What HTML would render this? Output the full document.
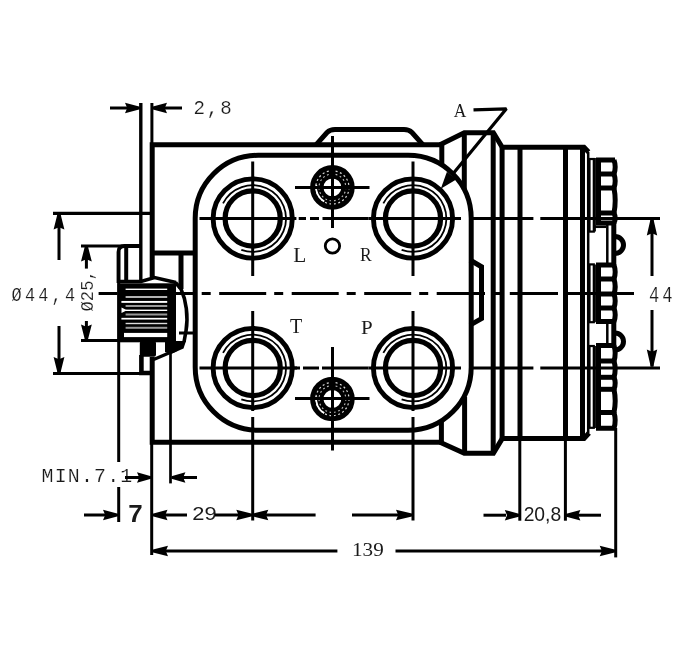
<!DOCTYPE html>
<html><head><meta charset="utf-8"><style>html,body{margin:0;padding:0;background:#fff;}svg{display:block;will-change:transform;filter:blur(0.3px);}</style></head>
<body><svg width="688" height="665" viewBox="0 0 688 665" stroke="#000" stroke-linecap="butt"><text x="0" y="0" transform="translate(93.13,311.41) rotate(-90) scale(0.1714,0.1872)" font-family="Liberation Mono" font-weight="normal" font-size="100" letter-spacing="0.0" stroke="#fff" stroke-width="0.9" fill="#1a1a1a">Ø25,</text>
<text x="0" y="0" transform="translate(361.07,334.30) scale(0.2102,0.1800)" font-family="Liberation Serif" font-weight="normal" font-size="100" letter-spacing="0" stroke="none" fill="#1a1a1a">P</text>
<text x="0" y="0" transform="translate(290.10,333.00) scale(0.2000,0.2031)" font-family="Liberation Serif" font-weight="normal" font-size="100" letter-spacing="0" stroke="none" fill="#1a1a1a">T</text>
<text x="0" y="0" transform="translate(360.08,260.70) scale(0.1750,0.1908)" font-family="Liberation Serif" font-weight="normal" font-size="100" letter-spacing="0" stroke="none" fill="#1a1a1a">R</text>
<text x="0" y="0" transform="translate(293.26,262.00) scale(0.2135,0.2015)" font-family="Liberation Serif" font-weight="normal" font-size="100" letter-spacing="0" stroke="none" fill="#1a1a1a">L</text>
<text x="0" y="0" transform="translate(351.99,556.20) scale(0.2117,0.1985)" font-family="Liberation Serif" font-weight="normal" font-size="100" letter-spacing="0" stroke="none" fill="#1a1a1a">139</text>
<text x="0" y="0" transform="translate(523.64,521.46) scale(0.1930,0.1952)" font-family="Liberation Sans" font-weight="normal" font-size="100" letter-spacing="0" stroke="none" fill="#1a1a1a">20,8</text>
<text x="0" y="0" transform="translate(192.21,519.62) scale(0.2188,0.1817)" font-family="Liberation Sans" font-weight="normal" font-size="100" letter-spacing="0" stroke="none" fill="#1a1a1a">29</text>
<text x="0" y="0" transform="translate(128.16,521.65) scale(0.2596,0.2471)" font-family="Liberation Sans" font-weight="bold" font-size="100" letter-spacing="0" stroke="none" fill="#1a1a1a">7</text>
<text x="0" y="0" transform="translate(648.94,301.82) scale(0.1711,0.2154)" font-family="Liberation Mono" font-weight="normal" font-size="100" letter-spacing="18.0" stroke="#fff" stroke-width="0.9" fill="#1a1a1a">44</text>
<text x="0" y="0" transform="translate(453.83,117.29) scale(0.1743,0.1877)" font-family="Liberation Serif" font-weight="normal" font-size="100" letter-spacing="0" stroke="none" fill="#1a1a1a">A</text>
<text x="0" y="0" transform="translate(41.61,482.30) scale(0.1987,0.2000)" font-family="Liberation Mono" font-weight="normal" font-size="100" letter-spacing="6.0" stroke="#fff" stroke-width="0.9" fill="#1a1a1a">MIN.7.1</text>
<text x="0" y="0" transform="translate(11.59,300.96) scale(0.1688,0.1965)" font-family="Liberation Mono" font-weight="normal" font-size="100" letter-spacing="19.0" stroke="#fff" stroke-width="0.9" fill="#1a1a1a">Ø44,4</text>
<text x="0" y="0" transform="translate(193.46,114.44) scale(0.1914,0.1976)" font-family="Liberation Mono" font-weight="normal" font-size="100" letter-spacing="10.0" stroke="#fff" stroke-width="0.9" fill="#1a1a1a">2,8</text>
<line x1="140.8" y1="103" x2="140.8" y2="281" stroke-width="3.4"/>
<line x1="151.9" y1="103" x2="151.9" y2="145" stroke-width="3"/>
<line x1="110" y1="108" x2="130" y2="108" stroke-width="3"/>
<polygon points="140,106.7 125,102.8 127.2,108 125,113.2 140,109.3" stroke="none" fill="#000"/>
<line x1="162" y1="108" x2="182" y2="108" stroke-width="3"/>
<polygon points="152,106.7 167,102.8 164.8,108 167,113.2 152,109.3" stroke="none" fill="#000"/>
<path d="M152.2,277 V144.8 H442" stroke-width="5.0" fill="none" />
<path d="M152.2,357 V442.3 H442" stroke-width="5.0" fill="none" />
<line x1="151.7" y1="441.5" x2="151.7" y2="555" stroke-width="3"/>
<path d="M316,144.8 L327,132.5 Q330,129.6 335,129.6 H404 Q409,129.6 412,132.5 L423,144.8" stroke-width="5.0" fill="none" />
<rect x="195.2" y="155.3" width="276" height="275" rx="63" ry="63" stroke-width="5.0" fill="none"/>
<line x1="152.2" y1="253" x2="195.5" y2="253" stroke-width="5.0"/>
<line x1="181" y1="253" x2="181" y2="289" stroke-width="5.0"/>
<line x1="179" y1="333" x2="195.5" y2="333" stroke-width="3"/>
<circle cx="252.7" cy="218.5" r="39.6" stroke-width="4.9" fill="none" />
<circle cx="252.7" cy="218.5" r="27.6" stroke-width="5.2" fill="none" />
<path d="M241.31,249.79 A33.3,33.3 0 1 0 223.03,203.38" stroke-width="1.8" fill="none" />
<circle cx="413" cy="218.5" r="39.6" stroke-width="4.9" fill="none" />
<circle cx="413" cy="218.5" r="27.6" stroke-width="5.2" fill="none" />
<path d="M401.61,249.79 A33.3,33.3 0 1 0 383.33,203.38" stroke-width="1.8" fill="none" />
<circle cx="252.7" cy="368" r="39.6" stroke-width="4.9" fill="none" />
<circle cx="252.7" cy="368" r="27.6" stroke-width="5.2" fill="none" />
<path d="M241.31,399.29 A33.3,33.3 0 1 0 223.03,352.88" stroke-width="1.8" fill="none" />
<circle cx="413" cy="368" r="39.6" stroke-width="4.9" fill="none" />
<circle cx="413" cy="368" r="27.6" stroke-width="5.2" fill="none" />
<path d="M401.61,399.29 A33.3,33.3 0 1 0 383.33,352.88" stroke-width="1.8" fill="none" />
<line x1="252.7" y1="161.5" x2="252.7" y2="276" stroke-width="3"/>
<line x1="252.7" y1="311" x2="252.7" y2="411" stroke-width="3"/>
<line x1="252.7" y1="417" x2="252.7" y2="520.5" stroke-width="3"/>
<line x1="413" y1="161.5" x2="413" y2="276" stroke-width="3"/>
<line x1="413" y1="311" x2="413" y2="411" stroke-width="3"/>
<line x1="413" y1="417" x2="413" y2="520.5" stroke-width="3"/>
<line x1="199.5" y1="218.5" x2="296.4" y2="218.5" stroke-width="3"/>
<line x1="368.5" y1="218.5" x2="458" y2="218.5" stroke-width="3"/>
<line x1="199.5" y1="368" x2="297" y2="368" stroke-width="3"/>
<line x1="368.5" y1="368" x2="458" y2="368" stroke-width="3"/>
<circle cx="332.4" cy="187.4" r="15.6" stroke-width="13.4" fill="none" />
<circle cx="332.4" cy="187.4" r="16.6" stroke-width="1.2" fill="none" stroke="#fff" stroke-dasharray="2 2.5" opacity="0.85"/>
<circle cx="332.4" cy="187.4" r="13.4" stroke-width="1.1" fill="none" stroke="#fff" stroke-dasharray="1.8 2.6" opacity="0.75"/>
<path d="M316.30,184.85 A16.3,16.3 0 0 0 324.25,201.52" stroke-width="1.8" fill="none" stroke="#fff"/>
<circle cx="332.4" cy="399" r="15.6" stroke-width="13.4" fill="none" />
<circle cx="332.4" cy="399" r="16.6" stroke-width="1.2" fill="none" stroke="#fff" stroke-dasharray="2 2.5" opacity="0.85"/>
<circle cx="332.4" cy="399" r="13.4" stroke-width="1.1" fill="none" stroke="#fff" stroke-dasharray="1.8 2.6" opacity="0.75"/>
<path d="M316.30,396.45 A16.3,16.3 0 0 0 324.25,413.12" stroke-width="1.8" fill="none" stroke="#fff"/>
<line x1="332.5" y1="136" x2="332.5" y2="228" stroke-width="3"/>
<line x1="295" y1="187.5" x2="369.5" y2="187.5" stroke-width="3"/>
<line x1="332.5" y1="347" x2="332.5" y2="450.5" stroke-width="3"/>
<line x1="295" y1="398.5" x2="369.5" y2="398.5" stroke-width="3"/>
<circle cx="332.45" cy="246" r="7.2" stroke-width="2.8" fill="none" />
<line x1="298.7" y1="218.5" x2="306" y2="218.5" stroke-width="3"/>
<line x1="310" y1="218.5" x2="319" y2="218.5" stroke-width="3"/>
<line x1="322.5" y1="218.5" x2="368.5" y2="218.5" stroke-width="3"/>
<line x1="146.7" y1="293.5" x2="470" y2="293.5" stroke-width="3" stroke-dasharray="47 8 9 8.5"/>
<line x1="98.6" y1="293.5" x2="117.5" y2="293.5" stroke-width="3"/>
<line x1="470" y1="293.5" x2="485" y2="293.5" stroke-width="3"/>
<line x1="494.7" y1="293.5" x2="500.7" y2="293.5" stroke-width="3"/>
<line x1="509.8" y1="293.5" x2="558" y2="293.5" stroke-width="3"/>
<line x1="564.7" y1="293.5" x2="634" y2="293.5" stroke-width="3"/>
<line x1="458" y1="218.5" x2="461" y2="218.5" stroke-width="3"/>
<line x1="469" y1="218.5" x2="533.4" y2="218.5" stroke-width="3"/>
<line x1="540.3" y1="218.5" x2="660" y2="218.5" stroke-width="3"/>
<line x1="458" y1="368" x2="461" y2="368" stroke-width="3"/>
<line x1="469" y1="368" x2="533.4" y2="368" stroke-width="3"/>
<line x1="540.3" y1="368" x2="660" y2="368" stroke-width="3"/>
<line x1="291.6" y1="368" x2="300" y2="368" stroke-width="3"/>
<line x1="303" y1="368" x2="319" y2="368" stroke-width="3"/>
<line x1="322" y1="368" x2="368.5" y2="368" stroke-width="3"/>
<line x1="81" y1="246" x2="141" y2="246" stroke-width="3"/>
<path d="M141,246 H124.5 Q118.5,246 118.5,252 V283" stroke-width="3.8" fill="none" />
<line x1="126.2" y1="246" x2="126.2" y2="281.5" stroke-width="4"/>
<line x1="81" y1="340.5" x2="119" y2="340.5" stroke-width="3"/>
<line x1="53" y1="213.3" x2="152" y2="213.3" stroke-width="3.2"/>
<line x1="53" y1="373.5" x2="140" y2="373.5" stroke-width="3"/>
<rect x="117.5" y="283.3" width="58.5" height="59" fill="#000" stroke="none"/>
<rect x="125.6" y="288.6" width="41.599999999999994" height="1.4" fill="#fff" stroke="none"/>
<rect x="125.6" y="296.3" width="41.599999999999994" height="1.4" fill="#fff" stroke="none"/>
<rect x="121.4" y="300.95" width="45.79999999999998" height="1.9" fill="#fff" stroke="none"/>
<rect x="125.6" y="305.0" width="41.599999999999994" height="2.0" fill="#999" stroke="none"/>
<rect x="125.6" y="309.6" width="41.599999999999994" height="1.4" fill="#fff" stroke="none"/>
<rect x="125.6" y="313.5" width="41.599999999999994" height="2.0" fill="#999" stroke="none"/>
<rect x="121.4" y="317.84999999999997" width="45.79999999999998" height="1.7" fill="#fff" stroke="none"/>
<rect x="125.6" y="322.8" width="41.599999999999994" height="1.4" fill="#ddd" stroke="none"/>
<rect x="125.6" y="326.8" width="41.599999999999994" height="2.0" fill="#999" stroke="none"/>
<rect x="124" y="332.9" width="43.19999999999999" height="4.2" fill="#fff" stroke="none"/>
<polygon points="121.5,307.5 127,310.3 121.5,313" fill="#fff" stroke="none"/>
<path d="M119,281.5 H141 L154.5,277.5 L176,282.5" stroke-width="3.5" fill="none" />
<path d="M175.5,282.5 L181,289 C186,300 188.5,316 186,331 L184,342" stroke-width="3.6" fill="none" />
<polygon points="165,341 186,341 183.5,348.5 171,354 165,352" fill="#000" stroke="none"/>
<line x1="153.7" y1="359.5" x2="176" y2="350" stroke-width="3"/>
<rect x="139.8" y="341" width="16.2" height="15.7" rx="2" fill="#000" stroke="none"/>
<path d="M141.4,355 V373 H152" stroke-width="4.6" fill="none" />
<line x1="59" y1="213" x2="59" y2="260" stroke-width="3"/>
<polygon points="57.7,213 53.6,229.5 59,227.3 64.4,229.5 60.3,213" stroke="none" fill="#000"/>
<line x1="59" y1="326" x2="59" y2="373.5" stroke-width="3"/>
<polygon points="57.7,373.5 53.6,357.0 59,359.2 64.4,357.0 60.3,373.5" stroke="none" fill="#000"/>
<line x1="86.4" y1="245.5" x2="86.4" y2="268.6" stroke-width="3"/>
<polygon points="85.10000000000001,245.5 81.0,261.5 86.4,259.3 91.80000000000001,261.5 87.7,245.5" stroke="none" fill="#000"/>
<line x1="86.4" y1="321" x2="86.4" y2="340.5" stroke-width="3"/>
<polygon points="85.10000000000001,340.5 81.0,324.5 86.4,326.7 91.80000000000001,324.5 87.7,340.5" stroke="none" fill="#000"/>
<line x1="118.7" y1="251" x2="118.7" y2="462" stroke-width="3"/>
<line x1="118.7" y1="487" x2="118.7" y2="522" stroke-width="3"/>
<line x1="170.5" y1="352.7" x2="170.5" y2="483.4" stroke-width="2.7"/>
<line x1="125" y1="477.5" x2="140" y2="477.5" stroke-width="3"/>
<polygon points="151,476.2 137,472.3 139.2,477.5 137,482.7 151,478.8" stroke="none" fill="#000"/>
<line x1="180" y1="477.5" x2="197" y2="477.5" stroke-width="3"/>
<polygon points="171.4,476.2 185.4,472.3 183.20000000000002,477.5 185.4,482.7 171.4,478.8" stroke="none" fill="#000"/>
<line x1="84" y1="515" x2="108" y2="515" stroke-width="3"/>
<polygon points="118,513.7 103,509.8 105.2,515 103,520.2 118,516.3" stroke="none" fill="#000"/>
<line x1="160" y1="515" x2="187" y2="515" stroke-width="3"/>
<polygon points="152.5,513.7 167.5,509.8 165.3,515 167.5,520.2 152.5,516.3" stroke="none" fill="#000"/>
<line x1="215" y1="515" x2="240" y2="515" stroke-width="3"/>
<polygon points="252.3,513.7 236.3,509.8 238.5,515 236.3,520.2 252.3,516.3" stroke="none" fill="#000"/>
<line x1="260" y1="515" x2="315.6" y2="515" stroke-width="3"/>
<polygon points="252.3,513.7 268.3,509.8 266.1,515 268.3,520.2 252.3,516.3" stroke="none" fill="#000"/>
<line x1="352" y1="515" x2="400" y2="515" stroke-width="3"/>
<polygon points="413,513.7 396,509.8 398.2,515 396,520.2 413,516.3" stroke="none" fill="#000"/>
<path d="M440,144.8 L464.3,132.8 H493.4 L502.2,147.3 H584 L588.5,152" stroke-width="5.0" fill="none" />
<path d="M440,442.3 L464.3,453.3 H493.4 L502.2,438.6 H584 L589,433" stroke-width="5.0" fill="none" />
<line x1="441.8" y1="144.8" x2="441.8" y2="165" stroke-width="5.0"/>
<line x1="441.4" y1="422" x2="441.4" y2="442" stroke-width="5.0"/>
<line x1="464.3" y1="132.8" x2="464.3" y2="190" stroke-width="5.0"/>
<line x1="464.6" y1="397" x2="464.6" y2="453" stroke-width="5.0"/>
<line x1="493.2" y1="132.8" x2="493.2" y2="453" stroke-width="5.0"/>
<line x1="502.1" y1="147.3" x2="502.1" y2="438.5" stroke-width="5.0"/>
<line x1="520" y1="147.3" x2="520" y2="438.5" stroke-width="5.0"/>
<line x1="565.5" y1="147.3" x2="565.5" y2="438.5" stroke-width="5.0"/>
<line x1="582.5" y1="147.3" x2="582.5" y2="438.5" stroke-width="5.0"/>
<path d="M470,260 L481.5,266.8 V318.6 L470,325.2" stroke-width="5.0" fill="none" />
<line x1="588.2" y1="152" x2="588.2" y2="433" stroke-width="2.5"/>
<path d="M615,160 H598.5 V223 H615" stroke-width="5.0" fill="none" />
<line x1="598.5" y1="174" x2="615" y2="174" stroke-width="5.0"/>
<line x1="598.5" y1="188" x2="615" y2="188" stroke-width="5.0"/>
<line x1="598.5" y1="213" x2="615" y2="213" stroke-width="5.0"/>
<path d="M614,160 Q616.4,167.0 614,174" stroke-width="5.0" fill="none" />
<path d="M614,174 Q616.4,181.0 614,188" stroke-width="5.0" fill="none" />
<path d="M614,188 Q616.4,200.5 614,213" stroke-width="5.0" fill="none" />
<path d="M614,213 Q616.4,218.0 614,223" stroke-width="5.0" fill="none" />
<path d="M615,265 H598.5 V321.6 H615" stroke-width="5.0" fill="none" />
<line x1="598.5" y1="279" x2="615" y2="279" stroke-width="5.0"/>
<line x1="598.5" y1="294" x2="615" y2="294" stroke-width="5.0"/>
<line x1="598.5" y1="308" x2="615" y2="308" stroke-width="5.0"/>
<path d="M614,265 Q616.4,272.0 614,279" stroke-width="5.0" fill="none" />
<path d="M614,279 Q616.4,286.5 614,294" stroke-width="5.0" fill="none" />
<path d="M614,294 Q616.4,301.0 614,308" stroke-width="5.0" fill="none" />
<path d="M614,308 Q616.4,314.8 614,321.6" stroke-width="5.0" fill="none" />
<path d="M615,345.4 H598.5 V428.3 H615" stroke-width="5.0" fill="none" />
<line x1="598.5" y1="361" x2="615" y2="361" stroke-width="5.0"/>
<line x1="598.5" y1="377.3" x2="615" y2="377.3" stroke-width="5.0"/>
<line x1="598.5" y1="389.3" x2="615" y2="389.3" stroke-width="5.0"/>
<line x1="598.5" y1="412.5" x2="615" y2="412.5" stroke-width="5.0"/>
<path d="M614,345.4 Q616.4,353.2 614,361" stroke-width="5.0" fill="none" />
<path d="M614,361 Q616.4,369.15 614,377.3" stroke-width="5.0" fill="none" />
<path d="M614,377.3 Q616.4,383.3 614,389.3" stroke-width="5.0" fill="none" />
<path d="M614,389.3 Q616.4,400.9 614,412.5" stroke-width="5.0" fill="none" />
<path d="M614,412.5 Q616.4,420.4 614,428.3" stroke-width="5.0" fill="none" />
<rect x="589.5" y="159" width="4.3" height="72.6" stroke-width="2.2" fill="none"/>
<rect x="589.5" y="264.4" width="4.3" height="57.80000000000001" stroke-width="2.2" fill="none"/>
<rect x="589.5" y="346" width="4.3" height="81.80000000000001" stroke-width="2.2" fill="none"/>
<line x1="595" y1="158" x2="595" y2="231.6" stroke-width="1.8"/>
<line x1="595" y1="264.4" x2="595" y2="322.2" stroke-width="1.8"/>
<line x1="595" y1="346" x2="595" y2="428" stroke-width="1.8"/>
<line x1="607.3" y1="223" x2="607.3" y2="265" stroke-width="2.5"/>
<line x1="613.8" y1="223" x2="613.8" y2="265" stroke-width="5.0"/>
<path d="M615,236.5 A8.5,8.5 0 0 1 615,253.5" stroke-width="5.0" fill="none" />
<line x1="607.3" y1="321.6" x2="607.3" y2="345.4" stroke-width="2.5"/>
<line x1="613.8" y1="321.6" x2="613.8" y2="345.4" stroke-width="5.0"/>
<path d="M615,333.0 A8.5,8.5 0 0 1 615,350.0" stroke-width="5.0" fill="none" />
<line x1="594" y1="226.8" x2="606" y2="226.8" stroke-width="2.5"/>
<line x1="652" y1="218.5" x2="652" y2="276" stroke-width="3"/>
<polygon points="650.7,218.5 646.8,235.5 652,233.3 657.2,235.5 653.3,218.5" stroke="none" fill="#000"/>
<line x1="652" y1="310" x2="652" y2="366.6" stroke-width="3"/>
<polygon points="650.7,366.6 646.8,349.6 652,351.8 657.2,349.6 653.3,366.6" stroke="none" fill="#000"/>
<line x1="615.7" y1="428" x2="615.7" y2="557.4" stroke-width="3"/>
<line x1="519.8" y1="438" x2="519.8" y2="520.7" stroke-width="3"/>
<line x1="565.4" y1="438" x2="565.4" y2="520.7" stroke-width="3"/>
<line x1="483.5" y1="515.2" x2="506" y2="515.2" stroke-width="3"/>
<polygon points="519.8,513.9000000000001 504.79999999999995,510.00000000000006 506.99999999999994,515.2 504.79999999999995,520.4000000000001 519.8,516.5" stroke="none" fill="#000"/>
<line x1="578" y1="515.2" x2="601" y2="515.2" stroke-width="3"/>
<polygon points="565.4,513.9000000000001 580.4,510.00000000000006 578.1999999999999,515.2 580.4,520.4000000000001 565.4,516.5" stroke="none" fill="#000"/>
<line x1="165" y1="551" x2="337.4" y2="551" stroke-width="3"/>
<polygon points="152,549.7 168,545.8 165.8,551 168,556.2 152,552.3" stroke="none" fill="#000"/>
<line x1="395.5" y1="551" x2="602" y2="551" stroke-width="3"/>
<polygon points="615.7,549.7 599.7,545.8 601.9000000000001,551 599.7,556.2 615.7,552.3" stroke="none" fill="#000"/>
<path d="M473.5,109.8 L506.4,108.8 L452,175" stroke-width="3.2" fill="none" stroke-linejoin="bevel"/>
<polygon points="440.8,188.8 456.2189597424982,179.45892509080352 446.9397462565414,171.84997003231894" stroke="none" fill="#000"/></svg></body></html>
